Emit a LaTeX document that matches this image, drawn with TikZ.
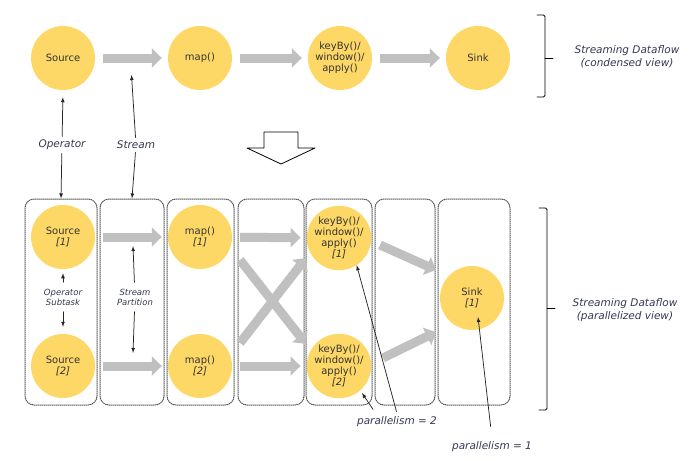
\documentclass[tikz,border=0pt]{standalone}
\usepackage{fontspec}
\setmainfont{DejaVu Sans}
\usetikzlibrary{arrows.meta,calc}
\definecolor{opyellow}{RGB}{254,216,102}
\definecolor{flowgray}{RGB}{192,192,192}
\definecolor{lblblue}{RGB}{52,56,82}
\begin{document}
\begin{tikzpicture}[x=1pt,y=-1pt,line cap=round,line join=round,>=latex,
  op/.style={circle,fill=opyellow,minimum size=64pt,inner sep=0pt,align=center,
    text=black!80,font=\fontsize{10}{11}\selectfont},
  stage/.style={draw=black!65,densely dotted,line width=1pt,rounded corners=9pt,
    minimum width=#1,minimum height=206pt,inner sep=0pt},
  flow/.style={draw=flowgray,line width=9pt,line cap=butt,
    -{Triangle[length=10pt,width=19pt]},shorten <=8pt,shorten >=6pt},
  ptr/.style={-latex,line width=0.75pt,black!85},
  lbl/.style={text=lblblue,align=center,font=\fontsize{10.5}{13}\selectfont\itshape},
  small/.style={text=lblblue,align=center,font=\fontsize{8.5}{10}\selectfont\itshape}]
  \useasboundingbox (0,0) rectangle (692,460);
  % stages of the parallel view
  \node[stage=72pt] (box1) at (61,302) {};
  \node[stage=64pt] (box2) at (132,302) {};
  \node[stage=67pt] (box3) at (200.5,302) {};
  \node[stage=66pt] (box4) at (271,302) {};
  \node[stage=66pt] (box5) at (339,302) {};
  \node[stage=60pt] (box6) at (405,302) {};
  \node[stage=72pt] (box7) at (474,302) {};
  % condensed view
  \node[op] (src) at (63,58) {Source};
  \node[op] (map) at (200,58) {map()};
  \node[op] (kb) at (340,58) {keyBy()/\\window()/\\apply()};
  \node[op] (sk) at (478,58) {Sink};
  \draw[flow] (src) -- (map);
  \draw[flow] (map) -- (kb);
  \draw[flow] (kb) -- (sk);
  % parallel view
  \coordinate (xa) at (240,260); \coordinate (xb) at (306,344);
  \coordinate (xc) at (240,343); \coordinate (xd) at (306,258);
  \coordinate (ya) at (380,245); \coordinate (yb) at (436,270);
  \coordinate (yc) at (383,358); \coordinate (yd) at (436,332);
  \draw[flow,shorten <=0pt,shorten >=0pt] (xa) -- (xb);
  \draw[flow,shorten <=0pt,shorten >=0pt] (xc) -- (xd);
  \draw[flow,shorten <=0pt,shorten >=0pt] (ya) -- (yb);
  \draw[flow,shorten <=0pt,shorten >=0pt] (yc) -- (yd);
  \node[op] (src1) at (63,237) {Source\\\textit{[1]}};
  \node[op] (src2) at (63,366) {Source\\\textit{[2]}};
  \node[op] (map1) at (200,237) {map()\\\textit{[1]}};
  \node[op] (map2) at (200,366) {map()\\\textit{[2]}};
  \node[op] (kb1) at (339,238) {keyBy()/\\window()/\\apply()\\\textit{[1]}};
  \node[op] (kb2) at (339,366) {keyBy()/\\window()/\\apply()\\\textit{[2]}};
  \node[op] (sk1) at (472,298) {Sink\\\textit{[1]}};
  \draw[flow] (src1) -- (map1);
  \draw[flow] (src2) -- (map2);
  \draw[flow] (map1) -- (kb1);
  \draw[flow] (map2) -- (kb2);
  % big hollow arrow
  \draw[line width=0.8pt] (264,132) -- (298,132) -- (298,148) -- (315,148)
    -- (281,164) -- (247,148) -- (264,148) -- cycle;
  % labels and pointers
  \node[lbl] (oplbl) at (62,145) {Operator};
  \node[lbl] (stlbl) at (136,145) {Stream};
  \coordinate (sttip) at ($(src.east)!0.5!(map.west)+(0,17)$);
  \draw[ptr,shorten >=7pt] (oplbl) -- (src.south);
  \draw[ptr] (oplbl) -- (box1.north);
  \draw[ptr] (stlbl) -- (sttip);
  \draw[ptr] (stlbl) -- (box2.north);
  \node[small] (osl) at (63,297) {Operator\\Subtask};
  \node[small] (spl) at (135,297) {Stream\\Partition};
  \coordinate (sptop) at (133,246); \coordinate (spbot) at (133,353);
  \draw[ptr,shorten <=3pt,shorten >=4pt] (osl) -- (src1.south);
  \draw[ptr,shorten <=3pt,shorten >=7pt] (osl) -- (src2.north);
  \draw[ptr,shorten <=3pt] (spl) -- (sptop);
  \draw[ptr,shorten <=3pt] (spl) -- (spbot);
  \node[lbl] (par2) at (397,422) {parallelism = 2};
  \node[lbl] (par1) at (492,447) {parallelism = 1};
  \draw[ptr,shorten <=2pt] (par2.north) -- (kb1.-57);
  \draw[ptr] ($(par2.north)+(-24,-4)$) -- ($(kb2)+(23,27)$);
  \draw[ptr,shorten <=12pt] (par1.north) -- ($(sk1)+(6,19)$);
  % brackets
  \draw[line width=0.8pt,rounded corners=1.5pt] (537,15) -- (545,15) -- (545,97) -- (537,97);
  \draw[line width=0.8pt] (545,58) -- (553,58);
  \draw[line width=0.8pt,rounded corners=1.5pt] (539,208) -- (547,208) -- (547,410) -- (539,410);
  \draw[line width=0.8pt] (547,308) -- (555,308);
  \node[lbl] (cview) at (627,57) {Streaming Dataflow\\(condensed view)};
  \node[lbl] (pview) at (625,310) {Streaming Dataflow\\(parallelized view)};
\end{tikzpicture}
\end{document}
